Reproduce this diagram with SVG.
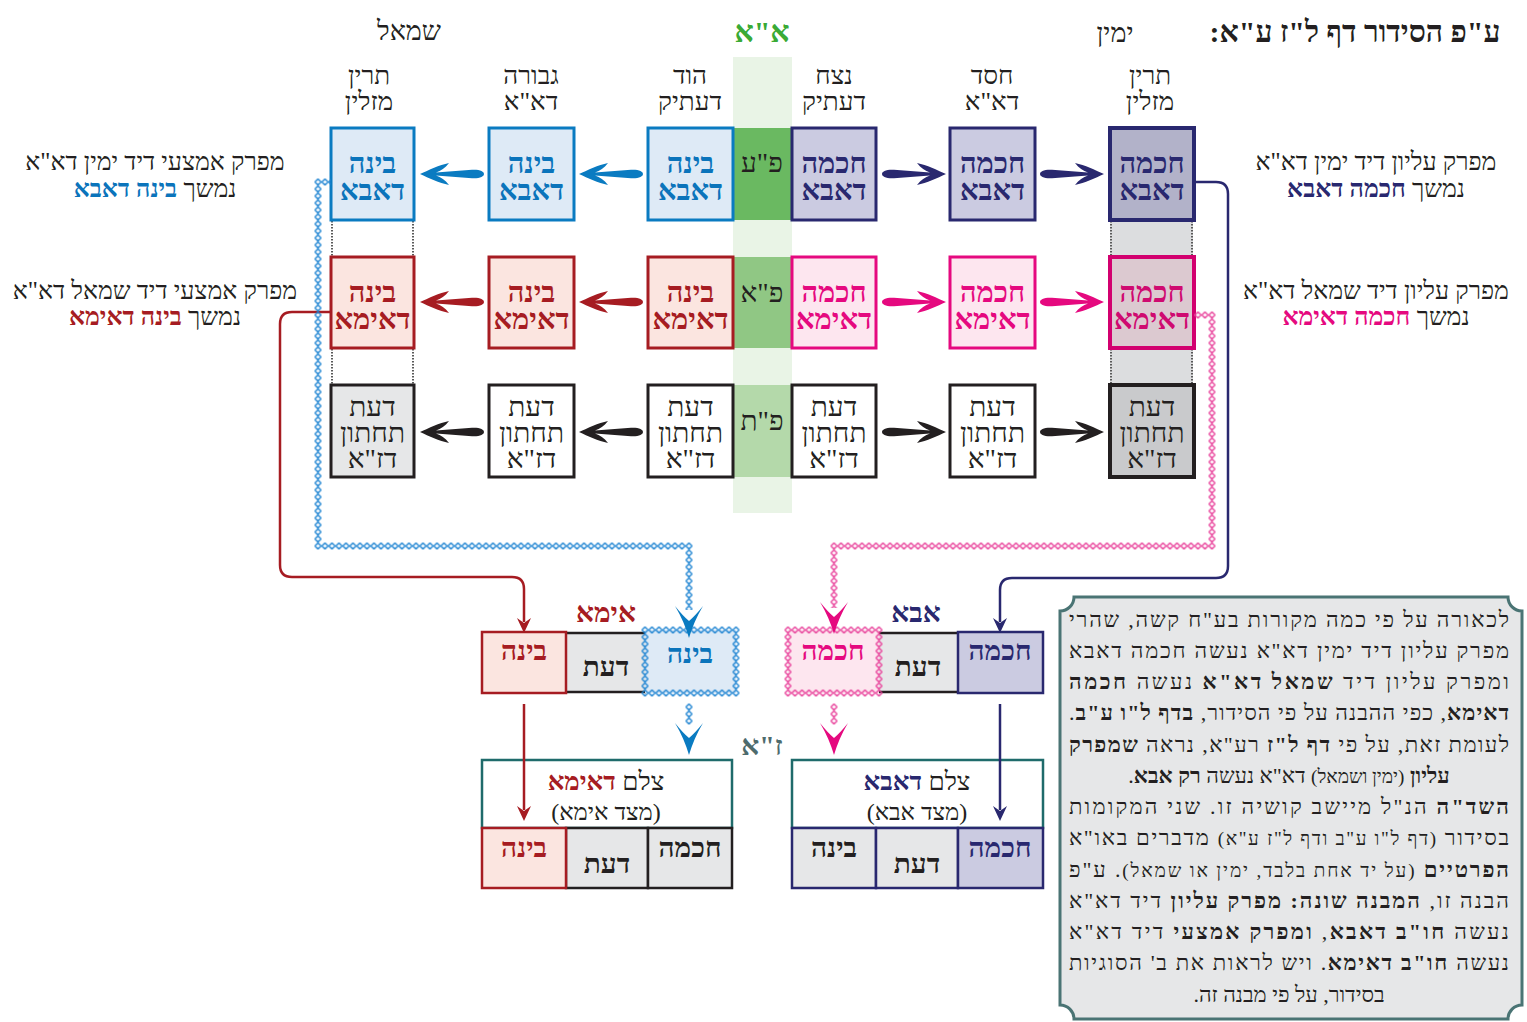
<svg xmlns="http://www.w3.org/2000/svg" width="1527" height="1022" viewBox="0 0 1527 1022">
<style>
text{font-family:"Liberation Serif","DejaVu Sans",serif;direction:rtl;text-anchor:middle;fill:#231f20}
.b{font-weight:bold}
.h{font-size:26px}
.bx{font-size:29px;font-weight:bold}
.bc{font-size:28px;font-weight:bold}
.bt{font-size:28px}
.lb{font-size:25px}
.p{font-size:22px}
.s{font-size:19px}
.blue{fill:#0b74bb}
.red{fill:#a61c22}
.navy{fill:#29286f}
.pink{fill:#e5097f}
.green{fill:#3aaa35}
.za{fill:#4e6b6d}
.rB{fill:#deeaf6;stroke:#0a7bc1;stroke-width:3}
.rR{fill:#fbe5e0;stroke:#a61c22;stroke-width:3}
.rK{fill:#ffffff;stroke:#231f20;stroke-width:3}
.rN{fill:#cbcbe1;stroke:#29286f;stroke-width:3}
.rP{fill:#fde6ef;stroke:#e5097f;stroke-width:3}
.gray{fill:#e6e7e8}
.teal{fill:#ffffff;stroke:#1f6b6b;stroke-width:2.5}
.dot{stroke:#5a5a5a;stroke-width:2;stroke-dasharray:1.5 1.5;fill:none}
.cn{fill:none;stroke-width:2.5}
</style>
<defs>
<path id="arrR" d="M0,0 C-9,-4 -19,-9 -29,-11 C-25,-6 -21,-3 -16,-1.5 L-52,-4.2 C-60,-4.6 -64,-2.5 -64,0 C-64,2.5 -60,4.6 -52,4.2 L-16,1.5 C-21,3 -25,6 -29,11 C-19,9 -9,4 0,0 Z"/>
<path id="chevD" d="M0,0 Q-5,-17 -14,-32 Q-6,-22 0,-17 Q6,-22 14,-32 Q5,-17 0,0 Z"/>
<path id="tipD" d="M0,0 L-7,-15 L0,-10 L7,-15 Z"/>
<pattern id="pcB" patternUnits="userSpaceOnUse" x="-0.5" y="3.5" width="7" height="7"><path d="M3.5,0.5 L6.5,3.5 L3.5,6.5 L0.5,3.5 Z" fill="none" stroke="#1b82d1" stroke-width="1.4"/></pattern>
<pattern id="pbB" patternUnits="userSpaceOnUse" x="-2.5" y="3.5" width="7" height="7"><path d="M3.5,0.5 L6.5,3.5 L3.5,6.5 L0.5,3.5 Z" fill="none" stroke="#1b82d1" stroke-width="1.4"/></pattern>
<pattern id="pcP" patternUnits="userSpaceOnUse" x="-2.5" y="3.5" width="7" height="7"><path d="M3.5,0.5 L6.5,3.5 L3.5,6.5 L0.5,3.5 Z" fill="none" stroke="#e8409a" stroke-width="1.4"/></pattern>
<pattern id="pbP" patternUnits="userSpaceOnUse" x="0.5" y="3.5" width="7" height="7"><path d="M3.5,0.5 L6.5,3.5 L3.5,6.5 L0.5,3.5 Z" fill="none" stroke="#e8409a" stroke-width="1.4"/></pattern>
</defs>

<g id="headers">
<text class="b" x="1355" y="42" style="font-size:30px">ע"פ הסידור דף ל"ז ע"א:</text>
<text x="1115" y="42" style="font-size:27px">ימין</text>
<text class="b green" x="762" y="42" style="font-size:30px">א"א</text>
<text x="409" y="40" style="font-size:27px">שמאל</text>
<text class="h" x="369" y="84">תרין</text><text class="h" x="369" y="110">מזלין</text>
<text class="h" x="531" y="84">גבורה</text><text class="h" x="531" y="110">דא"א</text>
<text class="h" x="690" y="84">הוד</text><text class="h" x="690" y="110">דעתיק</text>
<text class="h" x="834" y="84">נצח</text><text class="h" x="834" y="110">דעתיק</text>
<text class="h" x="992" y="84">חסד</text><text class="h" x="992" y="110">דא"א</text>
<text class="h" x="1150" y="84">תרין</text><text class="h" x="1150" y="110">מזלין</text>
</g>

<g id="side-labels">
<text class="lb" x="155" y="170">מפרק אמצעי דיד ימין דא"א</text>
<text class="lb" x="155" y="197">נמשך <tspan class="b blue">בינה דאבא</tspan></text>
<text class="lb" x="155" y="299">מפרק אמצעי דיד שמאל דא"א</text>
<text class="lb" x="155" y="325">נמשך <tspan class="b red">בינה דאימא</tspan></text>
<text class="lb" x="1376" y="170">מפרק עליון דיד ימין דא"א</text>
<text class="lb" x="1376" y="197">נמשך <tspan class="b navy">חכמה דאבא</tspan></text>
<text class="lb" x="1376" y="299">מפרק עליון דיד שמאל דא"א</text>
<text class="lb" x="1376" y="325">נמשך <tspan class="b pink">חכמה דאימא</tspan></text>
</g>

<g id="aa-column">
<rect x="733" y="57" width="59" height="456" fill="#e9f4e6"/>
<rect x="733" y="128" width="59" height="92" fill="#6ab961"/>
<rect x="733" y="257" width="59" height="91" fill="#90c784"/>
<rect x="733" y="385" width="59" height="92" fill="#b4d9aa"/>
<text class="bt" x="762" y="172">פ"ע</text>
<text class="bt" x="762" y="302">פ"א</text>
<text class="bt" x="762" y="430">פ"ת</text>
</g>

<g id="col1-links">
<line class="dot" x1="332" y1="221" x2="332" y2="256"/><line class="dot" x1="413" y1="221" x2="413" y2="256"/>
<line class="dot" x1="332" y1="349" x2="332" y2="384"/><line class="dot" x1="413" y1="349" x2="413" y2="384"/>
</g>
<g id="col6-links">
<rect x="1110" y="221" width="83" height="35" fill="#dcdddf"/>
<rect x="1110" y="349" width="83" height="35" fill="#dcdddf"/>
<line class="dot" x1="1111" y1="221" x2="1111" y2="256"/><line class="dot" x1="1192" y1="221" x2="1192" y2="256"/>
<line class="dot" x1="1111" y1="349" x2="1111" y2="384"/><line class="dot" x1="1192" y1="349" x2="1192" y2="384"/>
</g>

<g id="n-c1r1"><rect class="rB" x="331" y="128" width="83" height="92"/><text class="bx blue" x="372.5" y="173">בינה</text><text class="bx blue" x="372.5" y="200">דאבא</text></g>
<g id="n-c2r1"><rect class="rB" x="489" y="128" width="85" height="92"/><text class="bx blue" x="531.5" y="173">בינה</text><text class="bx blue" x="531.5" y="200">דאבא</text></g>
<g id="n-c3r1"><rect class="rB" x="648" y="128" width="85" height="92"/><text class="bx blue" x="690.5" y="173">בינה</text><text class="bx blue" x="690.5" y="200">דאבא</text></g>
<g id="n-c4r1"><rect class="rN" x="792" y="128" width="84" height="92"/><text class="bx navy" x="834" y="173">חכמה</text><text class="bx navy" x="834" y="200">דאבא</text></g>
<g id="n-c5r1"><rect class="rN" x="950" y="128" width="85" height="92"/><text class="bx navy" x="992.5" y="173">חכמה</text><text class="bx navy" x="992.5" y="200">דאבא</text></g>
<g id="n-c6r1"><rect class="rN" x="1110" y="128" width="84" height="92" style="fill:#b2b2c9;stroke-width:4"/><text class="bx navy" x="1152" y="173">חכמה</text><text class="bx navy" x="1152" y="200">דאבא</text></g>

<g id="n-c1r2"><rect class="rR" x="331" y="257" width="83" height="91"/><text class="bx red" x="372.5" y="302">בינה</text><text class="bx red" x="372.5" y="329">דאימא</text></g>
<g id="n-c2r2"><rect class="rR" x="489" y="257" width="85" height="91"/><text class="bx red" x="531.5" y="302">בינה</text><text class="bx red" x="531.5" y="329">דאימא</text></g>
<g id="n-c3r2"><rect class="rR" x="648" y="257" width="85" height="91"/><text class="bx red" x="690.5" y="302">בינה</text><text class="bx red" x="690.5" y="329">דאימא</text></g>
<g id="n-c4r2"><rect class="rP" x="792" y="257" width="84" height="91"/><text class="bx pink" x="834" y="302">חכמה</text><text class="bx pink" x="834" y="329">דאימא</text></g>
<g id="n-c5r2"><rect class="rP" x="950" y="257" width="85" height="91"/><text class="bx pink" x="992.5" y="302">חכמה</text><text class="bx pink" x="992.5" y="329">דאימא</text></g>
<g id="n-c6r2"><rect class="rP" x="1110" y="257" width="84" height="91" style="fill:#dcc9d0;stroke:#d2006f;stroke-width:4"/><text class="bx" x="1152" y="302" style="fill:#cf0a70">חכמה</text><text class="bx" x="1152" y="329" style="fill:#cf0a70">דאימא</text></g>

<g id="n-c1r3"><rect class="rK" x="331" y="385" width="83" height="92" style="fill:#e6e7e8"/><text class="bt" x="372.5" y="416">דעת</text><text class="bt" x="372.5" y="442">תחתון</text><text class="bt" x="372.5" y="468">דז"א</text></g>
<g id="n-c2r3"><rect class="rK" x="489" y="385" width="85" height="92"/><text class="bt" x="531.5" y="416">דעת</text><text class="bt" x="531.5" y="442">תחתון</text><text class="bt" x="531.5" y="468">דז"א</text></g>
<g id="n-c3r3"><rect class="rK" x="648" y="385" width="85" height="92"/><text class="bt" x="690.5" y="416">דעת</text><text class="bt" x="690.5" y="442">תחתון</text><text class="bt" x="690.5" y="468">דז"א</text></g>
<g id="n-c4r3"><rect class="rK" x="792" y="385" width="84" height="92"/><text class="bt" x="834" y="416">דעת</text><text class="bt" x="834" y="442">תחתון</text><text class="bt" x="834" y="468">דז"א</text></g>
<g id="n-c5r3"><rect class="rK" x="950" y="385" width="85" height="92"/><text class="bt" x="992.5" y="416">דעת</text><text class="bt" x="992.5" y="442">תחתון</text><text class="bt" x="992.5" y="468">דז"א</text></g>
<g id="n-c6r3"><rect class="rK" x="1110" y="385" width="84" height="92" style="fill:#c9cacc;stroke-width:4"/><text class="bt" x="1152" y="416">דעת</text><text class="bt" x="1152" y="442">תחתון</text><text class="bt" x="1152" y="468">דז"א</text></g>

<g id="imma-group">
<text class="b red" x="606" y="622" style="font-size:28px">אימא</text>
<rect x="566" y="632" width="80" height="61" class="gray"/>
<line x1="566" y1="633" x2="646" y2="633" stroke="#231f20" stroke-width="2.5"/>
<line x1="566" y1="692" x2="646" y2="692" stroke="#231f20" stroke-width="2.5"/>
<rect class="rR" x="482" y="632" width="84" height="61" style="stroke-width:2.5"/>
<rect x="645" y="630" width="91" height="63" fill="#deeaf6" stroke="url(#pbB)" stroke-width="7"/>
<text class="bc red" x="524" y="660">בינה</text>
<text class="bc" x="606" y="676">דעת</text>
<text class="bc blue" x="690" y="663">בינה</text>
</g>
<g id="abba-group">
<text class="b navy" x="916" y="622" style="font-size:28px">אבא</text>
<rect x="879" y="632" width="79" height="61" class="gray"/>
<line x1="879" y1="633" x2="958" y2="633" stroke="#231f20" stroke-width="2.5"/>
<line x1="879" y1="692" x2="958" y2="692" stroke="#231f20" stroke-width="2.5"/>
<rect class="rN" x="958" y="632" width="85" height="61" style="stroke-width:2.5"/>
<rect x="788" y="630" width="91" height="63" fill="#fde6ef" stroke="url(#pbP)" stroke-width="7"/>
<text class="bc pink" x="833" y="660">חכמה</text>
<text class="bc" x="918" y="676">דעת</text>
<text class="bc navy" x="1000" y="660">חכמה</text>
</g>

<g id="za-label"><text class="b za" x="762" y="755" style="font-size:28px">ז"א</text></g>

<g id="tzelem-imma">
<rect class="teal" x="482" y="760" width="250" height="68"/>
<text class="h" x="606" y="790">צלם <tspan class="b red">דאימא</tspan></text>
<text x="606" y="820" style="font-size:24px">(מצד אימא)</text>
<rect x="566" y="828" width="82" height="60" class="gray" stroke="#231f20" stroke-width="2.5"/>
<rect x="648" y="828" width="84" height="60" class="gray" stroke="#231f20" stroke-width="2.5"/>
<rect class="rR" x="482" y="828" width="84" height="60" style="stroke-width:2.5"/>
<text class="bc red" x="524" y="857">בינה</text>
<text class="bc" x="607" y="873">דעת</text>
<text class="bc" x="690" y="857">חכמה</text>
</g>
<g id="tzelem-abba">
<rect class="teal" x="792" y="760" width="251" height="68"/>
<text class="h" x="917" y="790">צלם <tspan class="b navy">דאבא</tspan></text>
<text x="917" y="820" style="font-size:24px">(מצד אבא)</text>
<rect x="792" y="828" width="84" height="60" class="gray" stroke="#29286f" stroke-width="2.5"/>
<rect x="876" y="828" width="82" height="60" class="gray" stroke="#29286f" stroke-width="2.5"/>
<rect class="rN" x="958" y="828" width="85" height="60" style="stroke-width:2.5"/>
<text class="bc" x="834" y="857">בינה</text>
<text class="bc" x="917" y="873">דעת</text>
<text class="bc navy" x="1000" y="857">חכמה</text>
</g>

<g id="connectors">
<use href="#arrR" transform="translate(420,174) scale(-1,1)" fill="#0a7bc1"/>
<use href="#arrR" transform="translate(579,174) scale(-1,1)" fill="#0a7bc1"/>
<use href="#arrR" transform="translate(420,302) scale(-1,1)" fill="#a61c22"/>
<use href="#arrR" transform="translate(579,302) scale(-1,1)" fill="#a61c22"/>
<use href="#arrR" transform="translate(420,432) scale(-1,1)" fill="#231f20"/>
<use href="#arrR" transform="translate(579,432) scale(-1,1)" fill="#231f20"/>
<use href="#arrR" transform="translate(946,174)" fill="#29286f"/>
<use href="#arrR" transform="translate(1104,174)" fill="#29286f"/>
<use href="#arrR" transform="translate(946,302)" fill="#e5097f"/>
<use href="#arrR" transform="translate(1104,302)" fill="#e5097f"/>
<use href="#arrR" transform="translate(946,432)" fill="#231f20"/>
<use href="#arrR" transform="translate(1104,432)" fill="#231f20"/>

<path class="cn" stroke="#a61c22" d="M331,312 H292 Q280,312 280,324 V565 Q280,577 292,577 H512 Q524,577 524,589 V622"/>
<use href="#tipD" transform="translate(524,633)" fill="#a61c22"/>
<path class="cn" stroke="#29286f" d="M1194,182 H1216 Q1228,182 1228,194 V566 Q1228,578 1216,578 H1012 Q1000,578 1000,590 V622"/>
<use href="#tipD" transform="translate(1000,633)" fill="#29286f"/>

<path fill="none" stroke="url(#pcB)" stroke-width="7" d="M331,182 H318 V546 H689 V610"/>
<use href="#chevD" transform="translate(689,638)" fill="#0a7bc1"/>
<path fill="none" stroke="url(#pcP)" stroke-width="7" d="M1194,315 H1212 V546 H834 V608"/>
<use href="#chevD" transform="translate(834,634)" fill="#e5097f"/>

<path fill="none" stroke="url(#pcB)" stroke-width="7" d="M689,703.5 V724.5"/>
<use href="#chevD" transform="translate(689,755)" fill="#0a7bc1"/>
<path fill="none" stroke="url(#pcP)" stroke-width="7" d="M834,703.5 V724.5"/>
<use href="#chevD" transform="translate(834,755)" fill="#e5097f"/>

<line class="cn" stroke="#a61c22" x1="524" y1="704" x2="524" y2="810"/>
<use href="#tipD" transform="translate(524,821)" fill="#a61c22"/>
<line class="cn" stroke="#29286f" x1="1000" y1="704" x2="1000" y2="810"/>
<use href="#tipD" transform="translate(1000,821)" fill="#29286f"/>
</g>

<g id="note">
<path d="M1074,597 H1508 A14,14 0 0 0 1522,611 V1005 A14,14 0 0 0 1508,1019 H1074 A14,14 0 0 0 1060,1005 V611 A14,14 0 0 0 1074,597 Z" fill="#e6e7e8" stroke="#4a7474" stroke-width="3"/>
<text class="p" x="1289" y="627" textLength="440" lengthAdjust="spacing">לכאורה על פי כמה מקורות בע"ח קשה, שהרי</text>
<text class="p" x="1289" y="658" textLength="440" lengthAdjust="spacing">מפרק עליון דיד ימין דא"א נעשה חכמה דאבא</text>
<text class="p" x="1289" y="689" textLength="440" lengthAdjust="spacing">ומפרק עליון דיד <tspan class="b">שמאל דא"א</tspan> נעשה <tspan class="b">חכמה</tspan></text>
<text class="p" x="1289" y="720" textLength="440" lengthAdjust="spacing"><tspan class="b">דאימא</tspan>, כפי ההבנה על פי הסידור, <tspan class="b">בדף ל"ו ע"ב</tspan>.</text>
<text class="p" x="1289" y="752" textLength="440" lengthAdjust="spacing">לעומת זאת, על פי <tspan class="b">דף ל"ז</tspan> רע"א, נראה <tspan class="b">שמפרק</tspan></text>
<text class="p" x="1289" y="783"><tspan class="b">עליון</tspan> <tspan class="s">(ימין ושמאל)</tspan> דא"א נעשה <tspan class="b">רק אבא</tspan>.</text>
<text class="p" x="1289" y="814" textLength="440" lengthAdjust="spacing"><tspan class="b">השד"ה</tspan> הנ"ל מיישב קושיה זו. שני המקומות</text>
<text class="p" x="1289" y="845" textLength="440" lengthAdjust="spacing">בסידור <tspan class="s">(דף ל"ו ע"ב ודף ל"ז ע"א)</tspan> מדברים באו"א</text>
<text class="p" x="1289" y="877" textLength="440" lengthAdjust="spacing"><tspan class="b">הפרטיים</tspan> <tspan class="s">(על יד אחת בלבד, ימין או שמאל)</tspan>. ע"פ</text>
<text class="p" x="1289" y="908" textLength="440" lengthAdjust="spacing">הבנה זו, <tspan class="b">המבנה שונה: מפרק עליון</tspan> דיד דא"א</text>
<text class="p" x="1289" y="939" textLength="440" lengthAdjust="spacing">נעשה <tspan class="b">חו"ב דאבא</tspan>, <tspan class="b">ומפרק אמצעי</tspan> דיד דא"א</text>
<text class="p" x="1289" y="970" textLength="440" lengthAdjust="spacing">נעשה <tspan class="b">חו"ב דאימא</tspan>. ויש לראות את ב' הסוגיות</text>
<text class="p" x="1289" y="1002">בסידור, על פי מבנה זה.</text>
</g>
</svg>
